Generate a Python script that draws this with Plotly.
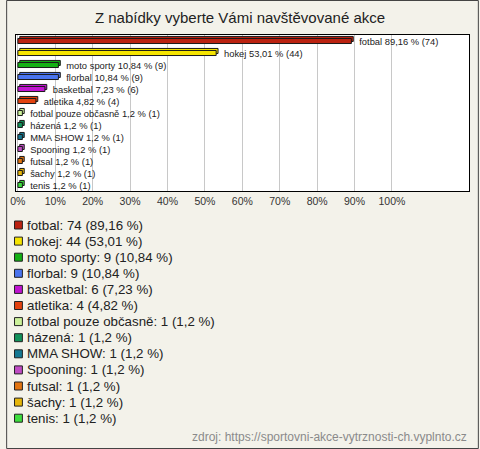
import plotly.graph_objects as go

# Data
kategorie = ['fotbal', 'hokej', 'moto sporty', 'florbal', 'basketbal', 'atletika',
             'fotbal pouze občasně', 'házená', 'MMA SHOW', 'Spooning', 'futsal', 'šachy', 'tenis']
pocty = [74, 44, 9, 9, 6, 4, 1, 1, 1, 1, 1, 1, 1]
procenta = [89.16, 53.01, 10.84, 10.84, 7.23, 4.82, 1.2, 1.2, 1.2, 1.2, 1.2, 1.2, 1.2]
barvy = ['#bb2211', '#f5e400', '#14b014', '#4a74ee', '#c014d0', '#e2420e',
         '#ccf29a', '#11925a', '#147892', '#c04cc4', '#e27410', '#e6b60a', '#3ede3e']
osa_tick = [0, 10, 20, 30, 40, 50, 60, 70, 80, 90, 100]

W, H = 480, 449
L, R, T, B = 10, 470, 35, 191  # plot area in pixels


def px_x(x):
    return (x - L) / (R - L)


def px_y(y):
    return (B - y) / (B - T)


def cz(v):
    return str(v).replace('.', ',')


popisky = ['   %s %s %% (%d)' % (k, cz(p), n) for k, p, n in zip(kategorie, procenta, pocty)]

fig = go.Figure()

# "3D" hloubka sloupcu - posunuta kopie za sloupcem
fig.add_trace(go.Bar(
    x=procenta, y=kategorie, orientation='h', base=0.5,
    marker=dict(color=barvy, line=dict(color='#1a1a1a', width=1)),
    width=0.42, offset=-0.38, hoverinfo='skip'))

# Graf se sloupci
fig.add_trace(go.Bar(
    x=procenta, y=kategorie, orientation='h',
    marker=dict(color=barvy, line=dict(color='#1a1a1a', width=1)),
    width=0.42, offset=-0.21,
    text=popisky, textposition='outside', constraintext='none',
    textfont=dict(size=9.4, color='#222222', family='Liberation Sans, Arial'),
    cliponaxis=False, hoverinfo='skip'))

fig.update_layout(
    width=W, height=H,
    margin=dict(l=L, r=W - R, t=T, b=H - B, pad=0),
    paper_bgcolor='#f3f2ea',
    plot_bgcolor='white',
    font=dict(family='Liberation Sans, Arial', color='#222222'),
    showlegend=False,
    barmode='overlay',
    title=dict(text='Z nabídky vyberte Vámi navštěvované akce', x=0.5, xanchor='center',
               y=1 - 18 / H, yanchor='middle', font=dict(size=15, color='#222222')),
    xaxis=dict(range=[-0.5, 120.6], tickvals=osa_tick, ticktext=['%d%%' % t for t in osa_tick],
               showgrid=True, gridcolor='#c8c8c8', gridwidth=1, zeroline=False,
               showline=True, linecolor='black', mirror=True, ticks='',
               tickfont=dict(size=10.5, color='#333333'), fixedrange=True),
    yaxis=dict(autorange='reversed', showticklabels=False, showgrid=False, zeroline=False,
               showline=True, linecolor='black', mirror=True, ticks=''),
)

# Legenda pod grafem
for i, (k, n, p, c) in enumerate(zip(kategorie, pocty, procenta, barvy)):
    yc = 225 + i * 16.1
    fig.add_shape(type='rect', xref='paper', yref='paper',
                  x0=px_x(8.5), x1=px_x(16.5), y0=px_y(yc - 4), y1=px_y(yc + 4),
                  fillcolor=c, line=dict(color='#222222', width=1))
    fig.add_annotation(text='%s: %d (%s %%)' % (k, n, cz(p)), xref='paper', yref='paper',
                       x=px_x(19), y=px_y(yc), xanchor='left', yanchor='middle',
                       showarrow=False, font=dict(size=13.3, color='#222222'))

# Zdroj
fig.add_annotation(text='zdroj: https://sportovni-akce-vytrznosti-ch.vyplnto.cz',
                   xref='paper', yref='paper', x=px_x(470), y=px_y(437),
                   xanchor='right', yanchor='middle', showarrow=False,
                   font=dict(size=12, color='#8a8a8a'))

# Ramecek kolem celeho obrazku
fig.add_shape(type='rect', xref='paper', yref='paper',
              x0=px_x(0.5), x1=px_x(W - 0.5), y0=px_y(H - 0.5), y1=px_y(0.5),
              line=dict(color='#444444', width=1), fillcolor='rgba(0,0,0,0)', layer='below')

fig.write_html("out.html", config={'displayModeBar': False},
               post_script="document.body.style.margin='0';")
